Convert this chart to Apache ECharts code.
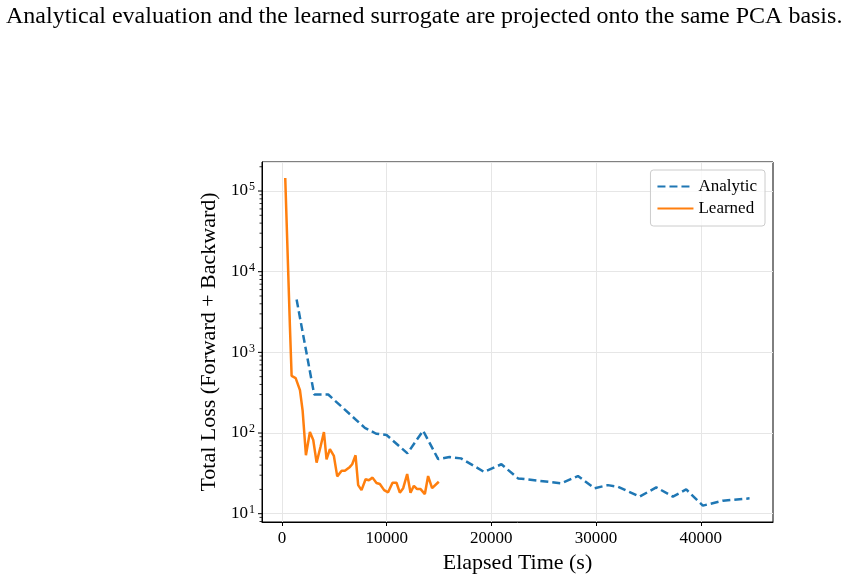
<!DOCTYPE html>
<html>
<head>
<meta charset="utf-8">
<script src="https://cdn.jsdelivr.net/npm/echarts@6/dist/echarts.min.js"></script>
<style>
  html, body { margin: 0; padding: 0; background: #fff; }
  #chart { width: 854px; height: 580px; }
</style>
</head>
<body>
<div id="chart"></div>
<script>
// values: [elapsed time (s), total loss]
const analytic = [
  [1400, 4520], [3080, 300], [4420, 300], [7920, 116], [9000, 98], [9990, 94.5],
  [11990, 56], [13480, 107], [14920, 47.5], [16000, 50.5], [17100, 48.5],
  [19300, 33], [20960, 41], [22550, 27.4], [26690, 23.8], [28270, 29.3],
  [29860, 20.7], [31130, 22.6], [32090, 21.6], [34160, 16.3], [35750, 21.2],
  [37340, 16.3], [38610, 20], [40200, 12.6], [42110, 14.5], [44660, 15.5]
]
const learned = [
  [315, 145000], [763, 2070], [925, 510], [1310, 480], [1720, 340], [1975, 190],
  [2290, 53], [2670, 103], [2990, 82], [3310, 43], [3690, 68], [4010, 103],
  [4260, 47], [4580, 63], [4960, 52], [5280, 29], [5700, 34], [6010, 34],
  [6490, 38], [6710, 41], [7030, 53], [7280, 22.6], [7600, 19.6], [7990, 26.7],
  [8300, 26], [8650, 28], [9030, 24], [9350, 23.3], [9760, 19.6], [10140, 18.4],
  [10560, 24.2], [10940, 24.2], [11260, 18.2], [11580, 20.7], [11960, 31],
  [12280, 18.2], [12600, 22.2], [12910, 20.2], [13240, 20.2], [13650, 17.5],
  [13960, 29.3], [14340, 20.7], [14980, 24.9]
]
const xTicks = [0, 10000, 20000, 30000, 40000]
const yTicks = [10, 100, 1000, 10000, 100000]
const xMin = -1905
const xMax = 46900
const yMin = 7.89
const yMax = 229000

// y ticks on the left spine: [x, value, tick length]
const yTickMarks = yTicks.map(v => [xMin, v, 4])
for (let e = 0; e <= 5; e++) {
  for (let m = 2; m <= 9; m++) {
    const v = m * Math.pow(10, e)
    if (v > yMin && v < yMax) yTickMarks.push([xMin, v, 2.5])
  }
}

const serif = "'Liberation Serif', 'DejaVu Serif', serif"
const myChart = echarts.init(document.getElementById('chart'))

const option = {
  animation: false,
  backgroundColor: '#fff',
  title: {
    text: 'Analytical evaluation and the learned surrogate are projected onto the same PCA basis.',
    left: 1,
    top: 0,
    textStyle: { fontFamily: serif, fontSize: 24, fontWeight: 'normal', color: '#000' }
  },
  grid: {
    left: 262, right: 81, top: 162, bottom: 58,
    show: true, borderColor: '#000', borderWidth: 1
  },
  legend: {
    data: [
      { name: 'Analytic', lineStyle: { type: [8, 4] } },
      { name: 'Learned' }
    ],
    orient: 'vertical',
    right: 89,
    top: 170,
    itemWidth: 36,
    itemHeight: 14,
    itemGap: 5,
    padding: [8, 8, 9, 6],
    itemStyle: { opacity: 0 },
    borderColor: '#ccc',
    borderWidth: 1,
    borderRadius: 3,
    backgroundColor: 'rgba(255,255,255,0.8)',
    textStyle: { fontFamily: serif, fontSize: 17, color: '#000' }
  },
  xAxis: {
    type: 'value',
    min: xMin,
    max: xMax,
    name: 'Elapsed Time (s)',
    nameLocation: 'middle',
    nameGap: 29,
    nameTextStyle: { fontFamily: serif, fontSize: 22, color: '#000' },
    axisLine: { onZero: false, lineStyle: { color: '#000', width: 1 } },
    axisTick: { show: true, length: 4, customValues: xTicks, lineStyle: { color: '#000' } },
    axisLabel: {
      customValues: xTicks,
      margin: 8,
      formatter: function (v) { return String(v) },
      fontFamily: serif, fontSize: 17, color: '#000'
    },
    splitLine: { show: true, lineStyle: { color: '#e6e6e6', width: 1 } }
  },
  yAxis: {
    type: 'log',
    logBase: 10,
    min: yMin,
    max: yMax,
    name: 'Total Loss (Forward + Backward)',
    nameLocation: 'middle',
    nameGap: 39,
    nameTextStyle: { fontFamily: serif, fontSize: 22, color: '#000' },
    axisLine: { show: true, onZero: false, lineStyle: { color: '#000', width: 1 } },
    axisTick: { show: false },
    axisLabel: {
      margin: 7,
      formatter: function (v) {
        const e = Math.log10(v)
        if (Math.abs(e - Math.round(e)) > 1e-6) return ''
        return '{b|10}{s|' + Math.round(e) + '}'
      },
      rich: {
        b: { fontFamily: serif, fontSize: 17, color: '#000' },
        s: { fontFamily: serif, fontSize: 12, color: '#000', verticalAlign: 'top', padding: [0, 0, 8, 1] }
      }
    },
    splitLine: { show: true, lineStyle: { color: '#e6e6e6', width: 1 } }
  },
  series: [
    {
      name: 'Analytic',
      type: 'line',
      data: analytic,
      showSymbol: false,
      symbol: 'none',
      lineStyle: { color: '#1f77b4', width: 2.5, type: [8, 4] },
      itemStyle: { color: '#1f77b4' },
      z: 3
    },
    {
      name: 'Learned',
      type: 'line',
      data: learned,
      showSymbol: false,
      symbol: 'none',
      lineStyle: { color: '#ff7f0e', width: 2.5 },
      itemStyle: { color: '#ff7f0e' },
      z: 4
    },
    {
      // major + minor log ticks on the left spine
      name: 'ticks',
      type: 'custom',
      silent: true,
      clip: false,
      data: yTickMarks,
      renderItem: function (params, api) {
        const p = api.coord([api.value(0), api.value(1)])
        const len = api.value(2)
        return {
          type: 'line',
          shape: { x1: p[0] - len, y1: p[1], x2: p[0], y2: p[1] },
          style: { stroke: '#000', lineWidth: len > 3 ? 1 : 0.8 }
        }
      }
    }
  ]
}
myChart.setOption(option)
</script>
</body>
</html>
